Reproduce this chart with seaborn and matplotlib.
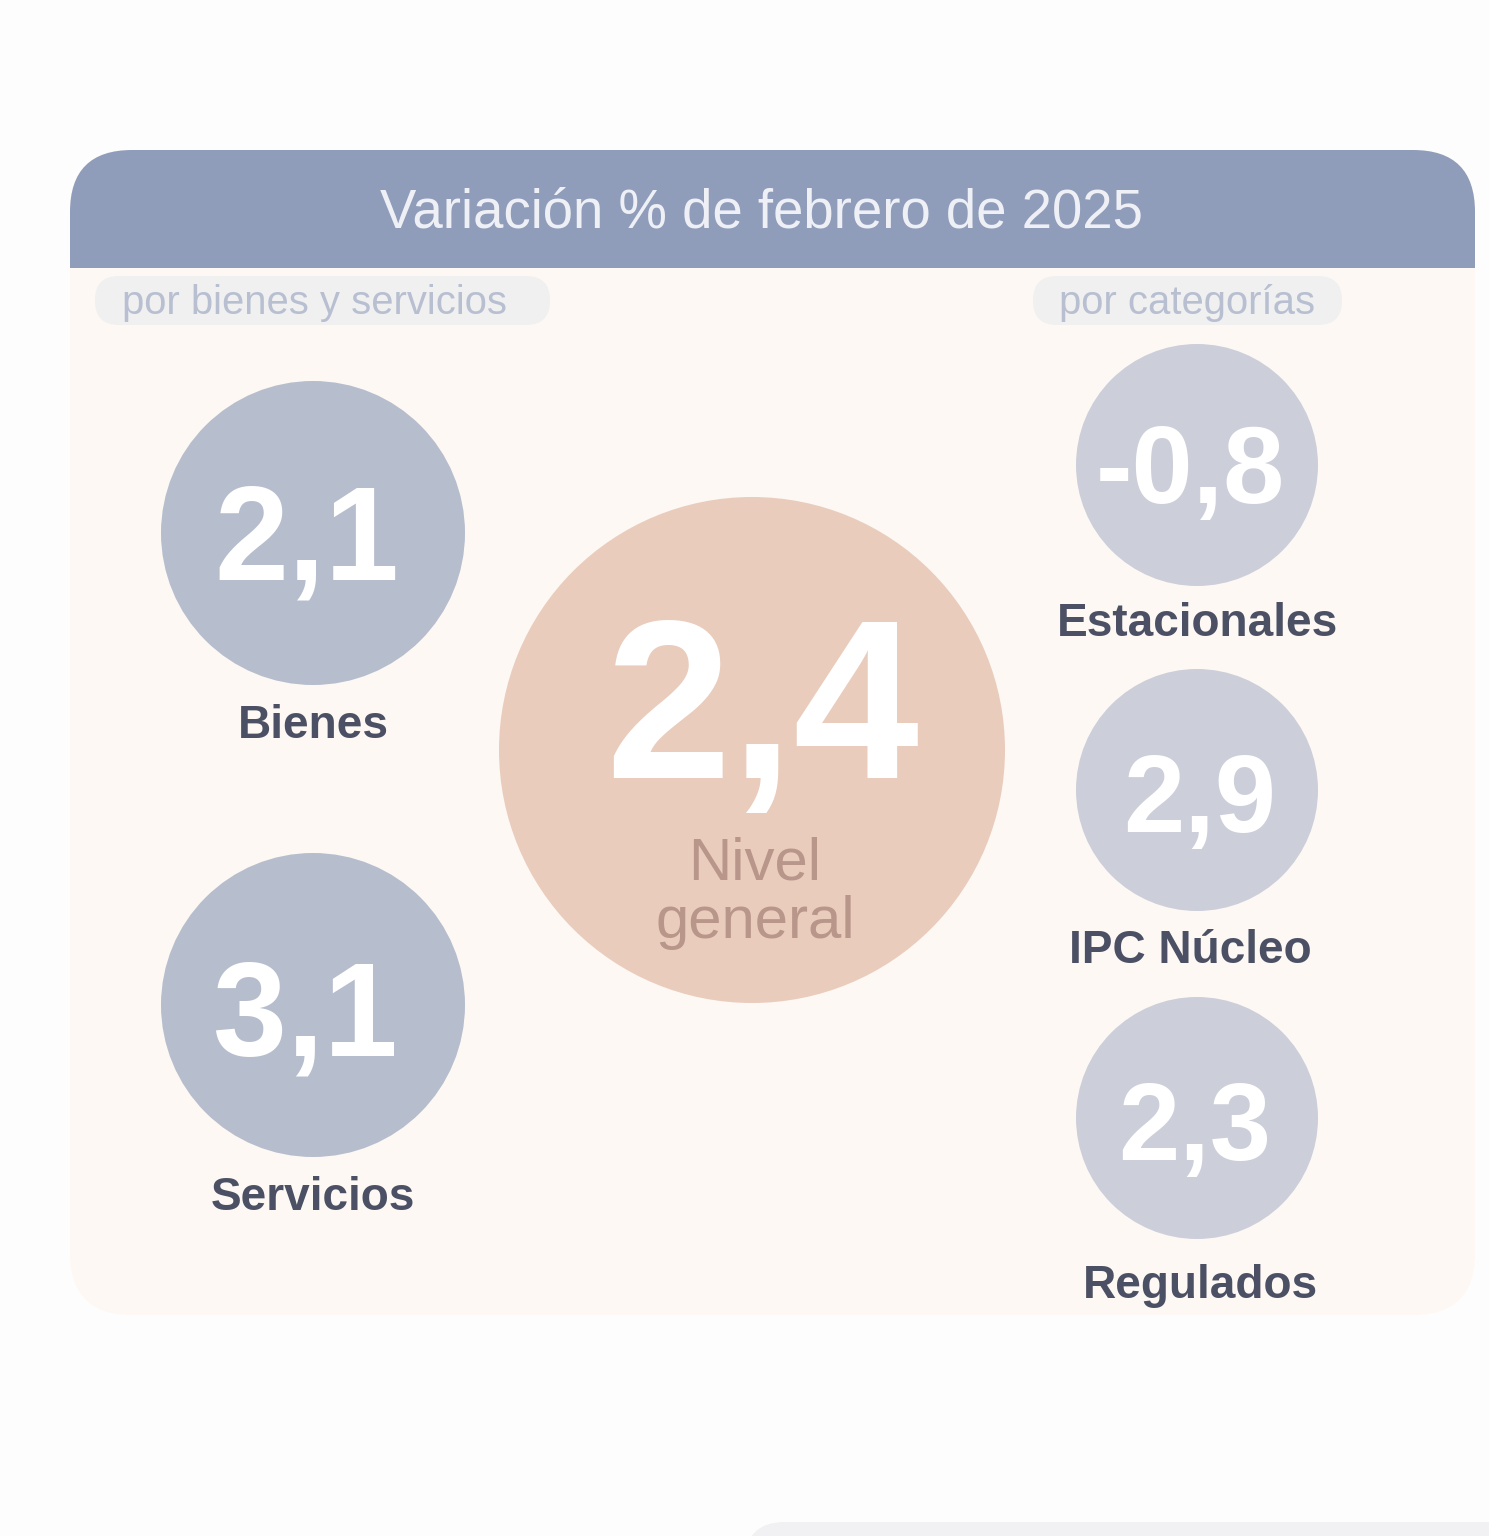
import matplotlib
matplotlib.use("Agg")
import matplotlib.pyplot as plt
from matplotlib.patches import FancyBboxPatch, Rectangle
import pandas as pd
import seaborn as sns

# datos: variación % de febrero de 2025
categorias = ["Bienes", "Servicios", "Nivel general", "Estacionales", "IPC Núcleo", "Regulados"]
valores = [2.1, 3.1, 2.4, -0.8, 2.9, 2.3]
grupos = ["bienes_servicios", "bienes_servicios", "general", "categorias", "categorias", "categorias"]
titulo = "Variación % de febrero de 2025"
subtitulos = ["por bienes y servicios", "por categorías"]

# layout (pixeles)
DPI = 100
W, H = 1489, 1536
pos_x = [313, 313, 752, 1197, 1197, 1197]
pos_y = [533, 1005, 750, 465, 790, 1118]
radio = {"bienes_servicios": 152, "general": 253, "categorias": 121}
colores = {"bienes_servicios": "#b6bdcd", "general": "#e9ccbc", "categorias": "#cccfda"}

def px_to_pt(px):
    return px * 72 / DPI

def fmt(v):
    return f"{v:.1f}".replace(".", ",")

sns.set_theme(style="white")
plt.rcParams["font.family"] = ["Liberation Sans", "DejaVu Sans"]

fig = plt.figure(figsize=(W / DPI, H / DPI), dpi=DPI, facecolor="#fdfdfd")
ax = fig.add_axes([0, 0, 1, 1])

# panel
body = "#fdf8f3"
header = "#8f9dbb"
ax.add_patch(FancyBboxPatch((70, 150), 1405, 1165, boxstyle="round,pad=0,rounding_size=62",
                            fc=body, ec="none", zorder=0))
ax.add_patch(FancyBboxPatch((70, 150), 1405, 240, boxstyle="round,pad=0,rounding_size=62",
                            fc=header, ec="none", zorder=1))
ax.add_patch(Rectangle((70, 268), 1405, 130, fc=body, ec="none", zorder=1.5))
ax.text(762, 228, titulo, ha="center", va="baseline", color="#eef0f5",
        fontsize=px_to_pt(54.5), zorder=3)

# pastillas de subtitulo
for (x0, x1), txt, tx in zip([(95, 550), (1033, 1342)], subtitulos, [122, 1059]):
    ax.add_patch(FancyBboxPatch((x0, 276), x1 - x0, 49, boxstyle="round,pad=0,rounding_size=24",
                                fc="#f0f0f1", ec="none", zorder=2))
    ax.text(tx, 314, txt, ha="left", va="baseline", color="#b8bfd1",
            fontsize=px_to_pt(40), zorder=3)

# franja gris inferior
ax.add_patch(FancyBboxPatch((745, 1522), 900, 100, boxstyle="round,pad=0,rounding_size=40",
                            fc="#f1f1f3", ec="none", zorder=0))

df = pd.DataFrame({"categoria": categorias, "valor": valores, "grupo": grupos,
                   "x": pos_x, "y": pos_y})
sizes = {g: (2 * px_to_pt(r)) ** 2 for g, r in radio.items()}
sns.scatterplot(data=df, x="x", y="y", hue="grupo", size="grupo", sizes=sizes,
                palette=colores, linewidth=0, legend=False, ax=ax, zorder=4)
ax.set_xlim(0, W)
ax.set_ylim(H, 0)
ax.axis("off")

num_font = {"bienes_servicios": 133, "general": 226, "categorias": 110}
num_base = {"Bienes": 580, "Servicios": 1055, "Nivel general": 778,
            "Estacionales": 503, "IPC Núcleo": 832, "Regulados": 1160}
num_dx = {"Bienes": -6, "Servicios": -8, "Nivel general": 10,
          "Estacionales": -7, "IPC Núcleo": 3, "Regulados": -2}
lab_base = {"Bienes": 738, "Servicios": 1210, "Estacionales": 636,
            "IPC Núcleo": 963, "Regulados": 1298}
lab_dx = {"Bienes": 0, "Servicios": 0, "Estacionales": 0, "IPC Núcleo": -7, "Regulados": 3}

for _, r in df.iterrows():
    c = r["categoria"]
    ax.text(r["x"] + num_dx[c], num_base[c], fmt(r["valor"]), ha="center", va="baseline",
            color="white", fontweight="bold", fontsize=px_to_pt(num_font[r["grupo"]]), zorder=5)
    if c == "Nivel general":
        ax.text(r["x"] + 3, 880, "Nivel", ha="center", va="baseline", color="#b8968a",
                fontsize=px_to_pt(60), zorder=5)
        ax.text(r["x"] + 3, 938, "general", ha="center", va="baseline", color="#b8968a",
                fontsize=px_to_pt(60), zorder=5)
    else:
        ax.text(r["x"] + lab_dx[c], lab_base[c], c, ha="center", va="baseline", color="#4b5064",
                fontweight="bold", fontsize=px_to_pt(46), zorder=5)

fig.savefig("out.png", dpi=DPI, facecolor=fig.get_facecolor())
